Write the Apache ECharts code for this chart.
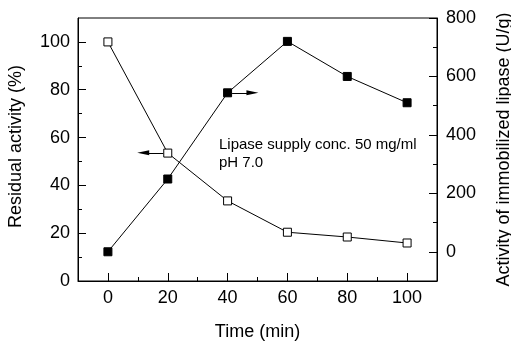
<!DOCTYPE html>
<html>
<head>
<meta charset="utf-8">
<script src="https://cdn.jsdelivr.net/npm/echarts@6/dist/echarts.min.js"></script>
<style>html,body{margin:0;padding:0;background:#fff}#c{width:511px;height:341px}</style>
</head>
<body>
<div id="c"></div>
<script>
var timeMin = [0, 20, 40, 60, 80, 100];
var residualActivity = [100, 53.5, 33.5, 20.4, 18.4, 15.9];
var immobilizedActivity = [0, 249, 544, 720, 600, 510];
var xMajorTicks = [0, 20, 40, 60, 80, 100];
var xMinorTicks = [10, 30, 50, 70, 90];
var leftMajorTicks = [0, 20, 40, 60, 80, 100];
var leftMinorTicks = [10, 30, 50, 70, 90];
var rightMajorTicks = [0, 200, 400, 600, 800];
var rightMinorTicks = [100, 300, 500, 700];
var noteLines = ['Lipase supply conc. 50 mg/ml', 'pH 7.0'];

var FONT = 'Liberation Sans, Arial, Helvetica, sans-serif';
var chart = echarts.init(document.getElementById('c'), null, {renderer: 'canvas'});

function pairs(xs, ys) { return xs.map(function (x, i) { return [x, ys[i]]; }); }

var lineAxisStyle = {show: true, onZero: false, lineStyle: {color: '#000', width: 1}};
function tickCfg(vals, len) {
  return {show: true, inside: true, length: len, customValues: vals, lineStyle: {color: '#000', width: 1}};
}
function arrowLine(from, to) {
  return {
    silent: true, animation: false, symbol: ['none', 'none'],
    label: {show: false}, emphasis: {disabled: true},
    lineStyle: {color: '#000', width: 1, type: 'solid'},
    data: [[{coord: from}, {coord: to}]]
  };
}
function arrowHead(at, rot) {
  return {
    silent: true, animation: false, symbol: 'triangle', symbolSize: [5, 12], symbolRotate: rot,
    label: {show: false}, itemStyle: {color: '#000'},
    data: [{coord: at}]
  };
}

var option = {
  animation: false,
  backgroundColor: '#fff',
  grid: {left: 78, right: 74, top: 18, bottom: 60, outerBoundsMode: 'none', containLabel: false,
         show: true, borderColor: '#000', borderWidth: 1, backgroundColor: 'transparent'},
  xAxis: [
    {
      type: 'value', min: -10, max: 110, position: 'bottom',
      axisLine: lineAxisStyle,
      axisTick: tickCfg(xMajorTicks, 8),
      axisLabel: {customValues: xMajorTicks, color: '#000', fontSize: 18, fontFamily: FONT, margin: 8},
      splitLine: {show: false},
      name: 'Time (min)', nameLocation: 'middle', nameGap: 42,
      nameTextStyle: {color: '#000', fontSize: 18, fontFamily: FONT}
    },
    {
      type: 'value', min: -10, max: 110, position: 'bottom',
      axisLine: {show: false, onZero: false},
      axisTick: tickCfg(xMinorTicks, 4),
      axisLabel: {show: false},
      splitLine: {show: false}
    }
  ],
  yAxis: [
    {
      type: 'value', min: 0, max: 110, position: 'left',
      axisLine: lineAxisStyle,
      axisTick: tickCfg(leftMajorTicks, 8),
      axisLabel: {customValues: leftMajorTicks, color: '#000', fontSize: 18, fontFamily: FONT, margin: 8},
      splitLine: {show: false},
      name: 'Residual activity (%)', nameLocation: 'middle', nameGap: 53,
      nameTextStyle: {color: '#000', fontSize: 18, fontFamily: FONT, padding: [0, 0, 0, 6]}
    },
    {
      type: 'value', min: 0, max: 110, position: 'left',
      axisLine: {show: false, onZero: false},
      axisTick: tickCfg(leftMinorTicks, 4),
      axisLabel: {show: false},
      splitLine: {show: false}
    },
    {
      type: 'value', min: -100, max: 800, position: 'right',
      axisLine: lineAxisStyle,
      axisTick: tickCfg(rightMajorTicks, 8),
      axisLabel: {customValues: rightMajorTicks, color: '#000', fontSize: 18, fontFamily: FONT, margin: 9},
      splitLine: {show: false},
      name: 'Activity of immobilized lipase (U/g)', nameLocation: 'middle', nameGap: 58,
      nameTextStyle: {color: '#000', fontSize: 18, fontFamily: FONT}
    },
    {
      type: 'value', min: -100, max: 800, position: 'right',
      axisLine: {show: false, onZero: false},
      axisTick: tickCfg(rightMinorTicks, 4),
      axisLabel: {show: false},
      splitLine: {show: false}
    }
  ],
  series: [
    {
      name: 'Residual activity', type: 'line', xAxisIndex: 0, yAxisIndex: 0,
      data: pairs(timeMin, residualActivity),
      symbol: 'rect', symbolSize: 8,
      lineStyle: {color: '#000', width: 1},
      itemStyle: {color: '#fff', borderColor: '#000', borderWidth: 1},
      z: 3,
      markLine: arrowLine([18.5, 53.6], [11.8, 53.6]),
      markPoint: arrowHead([11.8, 53.6], 90)
    },
    {
      name: 'Immobilized activity', type: 'line', xAxisIndex: 0, yAxisIndex: 2,
      data: pairs(timeMin, immobilizedActivity),
      symbol: 'rect', symbolSize: 8,
      lineStyle: {color: '#000', width: 1},
      itemStyle: {color: '#000', borderColor: '#000', borderWidth: 1},
      z: 4,
      markLine: arrowLine([41.5, 544], [48.3, 544]),
      markPoint: arrowHead([48.3, 544], -90)
    }
  ],
  graphic: [
    {
      type: 'text', left: 219, top: 136,
      style: {text: noteLines.join('\n'), fill: '#000', font: '15px ' + FONT, lineHeight: 18}
    }
  ]
};
chart.setOption(option);
</script>
</body>
</html>
